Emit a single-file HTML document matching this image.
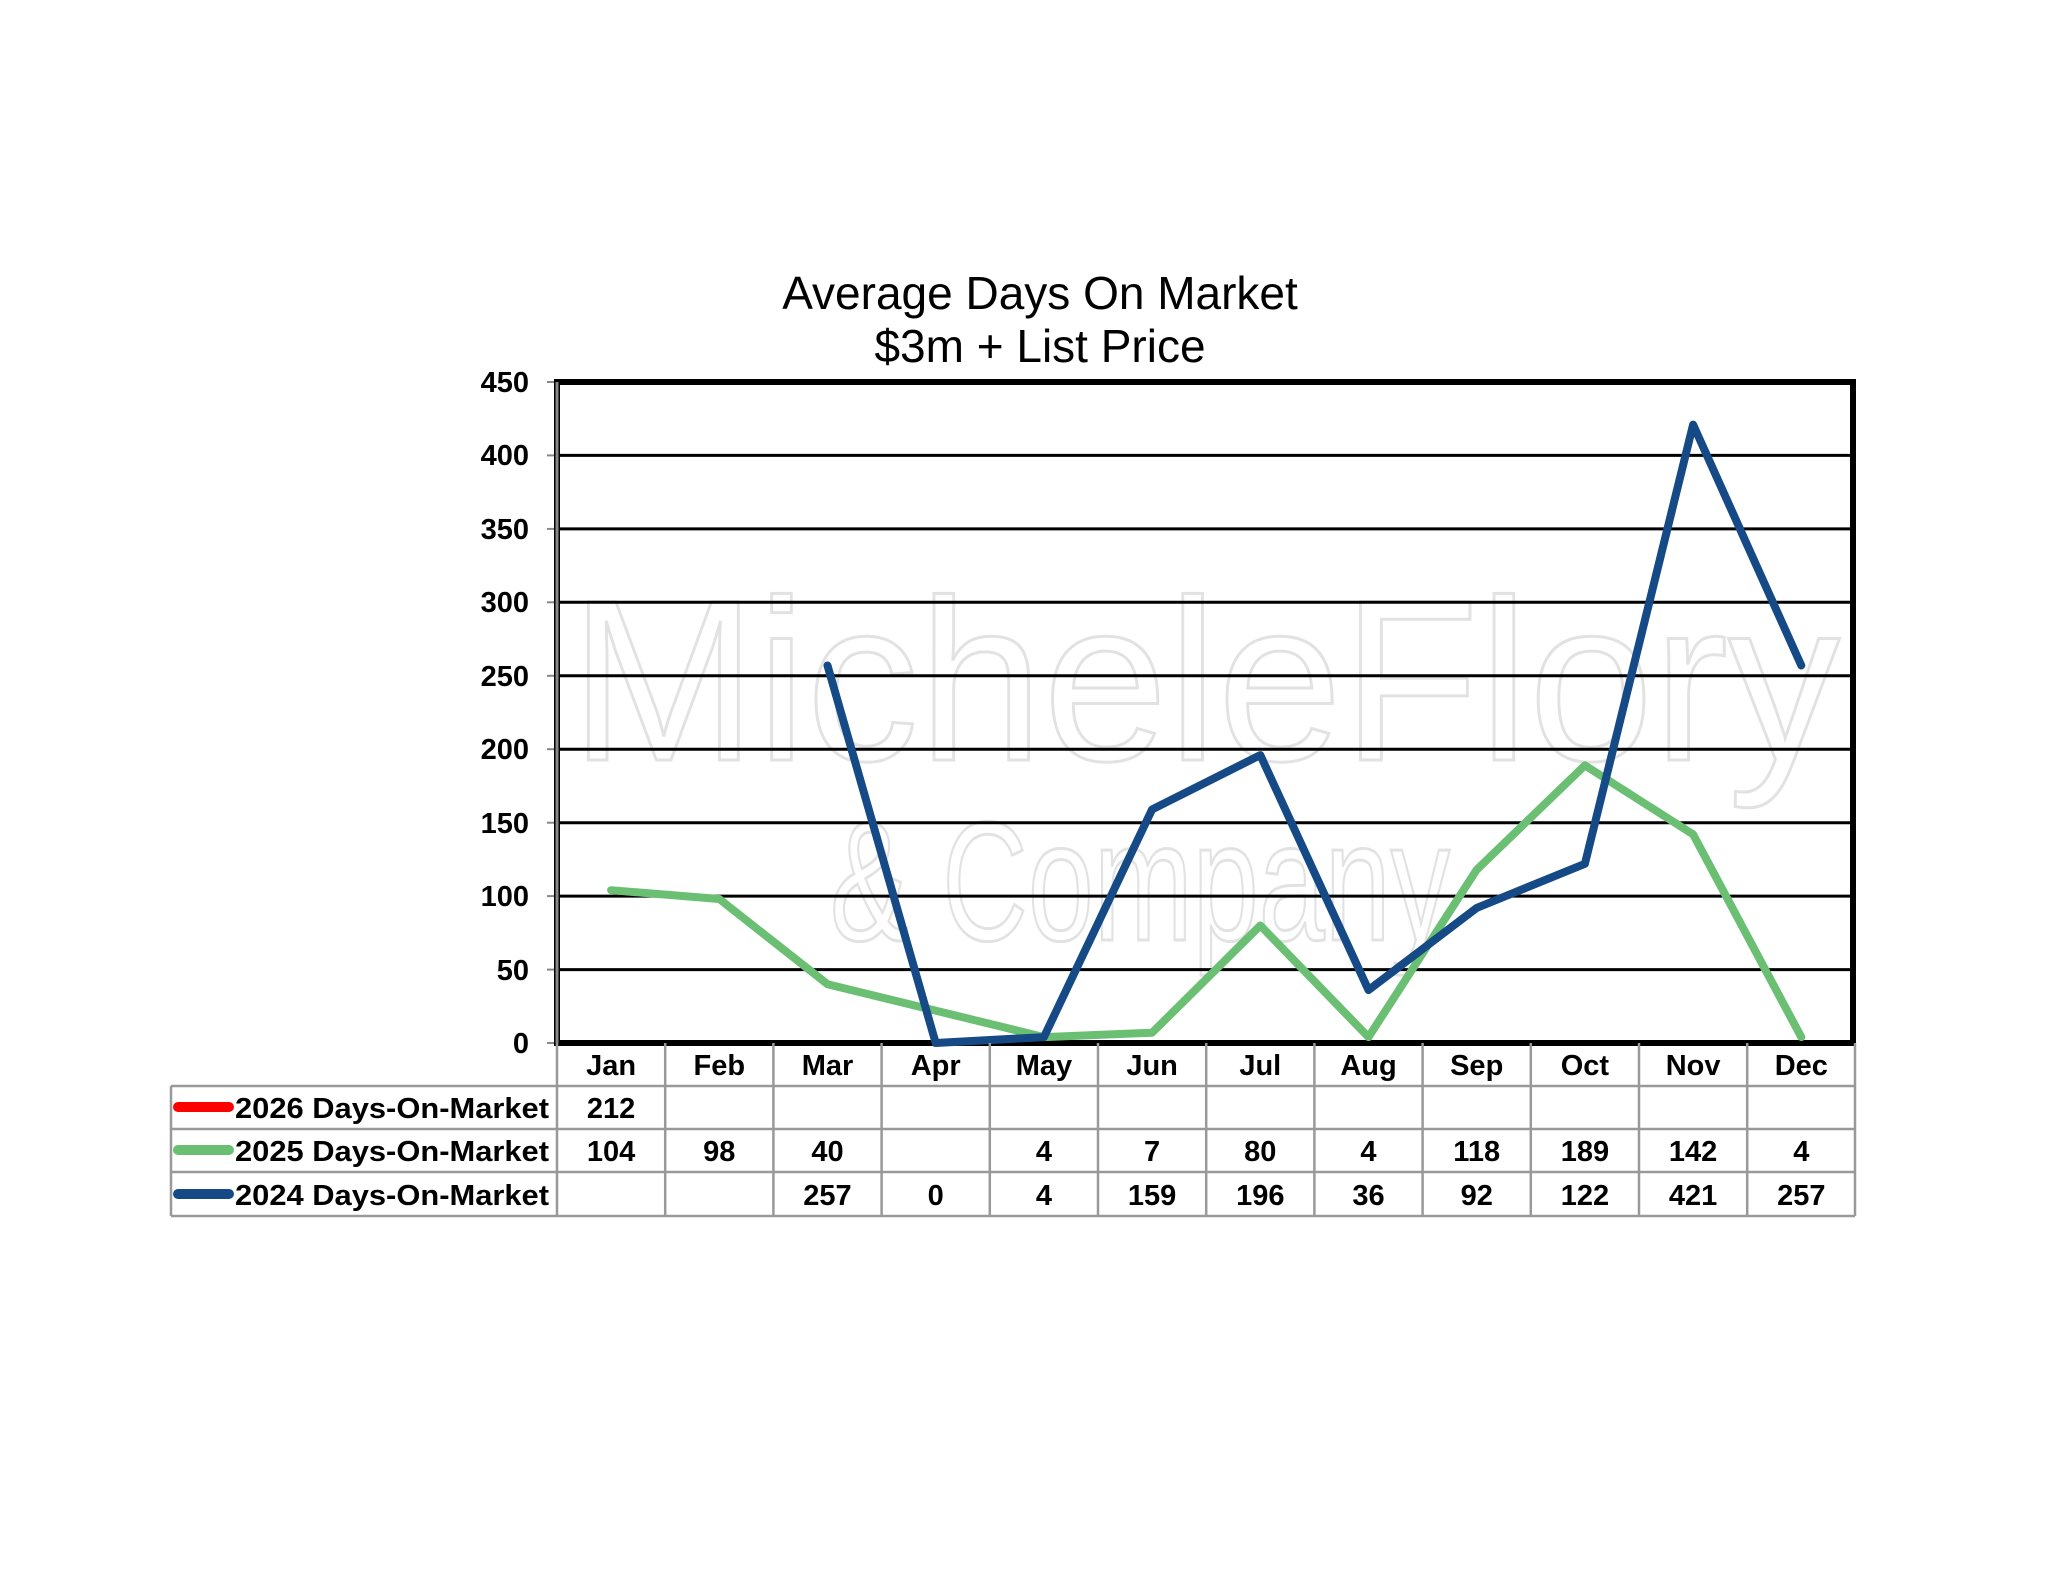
<!DOCTYPE html>
<html><head><meta charset="utf-8"><style>html,body{margin:0;padding:0;background:#fff}</style></head>
<body>
<svg width="2048" height="1583" viewBox="0 0 2048 1583" xmlns="http://www.w3.org/2000/svg" font-family="Liberation Sans, Arial, sans-serif">
<rect width="2048" height="1583" fill="#fff"/>
<text x="1040" y="309" font-size="46" text-anchor="middle" fill="#000">Average Days On Market</text>
<text x="1040" y="362" font-size="46" text-anchor="middle" fill="#000">$3m + List Price</text>
<!-- watermark -->
<g fill="none" stroke="#e2e2e2" stroke-width="3" font-size="230">
<text x="570" y="760" textLength="1270" lengthAdjust="spacingAndGlyphs">MicheleFlory</text>
<text x="830" y="940" font-size="170" textLength="620" lengthAdjust="spacingAndGlyphs">&amp; Company</text>
</g>
<!-- grid -->
<g stroke="#000" stroke-width="3">
<line x1="557" x2="1853" y1="455.4" y2="455.4"/>
<line x1="557" x2="1853" y1="528.9" y2="528.9"/>
<line x1="557" x2="1853" y1="602.3" y2="602.3"/>
<line x1="557" x2="1853" y1="675.8" y2="675.8"/>
<line x1="557" x2="1853" y1="749.2" y2="749.2"/>
<line x1="557" x2="1853" y1="822.7" y2="822.7"/>
<line x1="557" x2="1853" y1="896.1" y2="896.1"/>
<line x1="557" x2="1853" y1="969.6" y2="969.6"/>
</g>
<g stroke="#888" stroke-width="2">
<line x1="547" x2="557" y1="382" y2="382"/><line x1="547" x2="557" y1="455.4" y2="455.4"/>
<line x1="547" x2="557" y1="528.9" y2="528.9"/><line x1="547" x2="557" y1="602.3" y2="602.3"/>
<line x1="547" x2="557" y1="675.8" y2="675.8"/><line x1="547" x2="557" y1="749.2" y2="749.2"/>
<line x1="547" x2="557" y1="822.7" y2="822.7"/><line x1="547" x2="557" y1="896.1" y2="896.1"/>
<line x1="547" x2="557" y1="969.6" y2="969.6"/><line x1="547" x2="557" y1="1043" y2="1043"/>
</g>
<rect x="557" y="382" width="1296" height="661" fill="none" stroke="#000" stroke-width="6"/>
<line x1="557" x2="557" y1="382" y2="1043" stroke="#888" stroke-width="3"/>
<g font-size="29" font-weight="bold" text-anchor="end" fill="#000">
<text x="529" y="392">450</text><text x="529" y="465">400</text><text x="529" y="539">350</text>
<text x="529" y="612">300</text><text x="529" y="686">250</text><text x="529" y="759">200</text>
<text x="529" y="833">150</text><text x="529" y="906">100</text><text x="529" y="980">50</text>
<text x="529" y="1053">0</text>
</g>
<!-- series -->
<polyline fill="none" stroke="#6bbf73" stroke-width="8" stroke-linejoin="round" stroke-linecap="round" points="611.1,890.2 719.3,899 827.5,984.2 1043.9,1037.1 1152.1,1032.7 1260.3,925.5 1368.5,1037.1 1476.7,869.7 1584.9,765.4 1693.1,834.4 1801.3,1037.1"/>
<polyline fill="none" stroke="#154a86" stroke-width="8" stroke-linejoin="round" stroke-linecap="round" points="827.5,665.5 935.7,1043 1043.9,1037.1 1152.1,809.4 1260.3,755.1 1368.5,990.1 1476.7,907.9 1584.9,863.8 1693.1,424.6 1801.3,665.5"/>
<!-- table -->
<g stroke="#999" stroke-width="2.5" fill="none">
<line x1="171" x2="1855" y1="1086" y2="1086"/>
<line x1="171" x2="1855" y1="1129" y2="1129"/>
<line x1="171" x2="1855" y1="1172" y2="1172"/>
<line x1="171" x2="1855" y1="1216" y2="1216"/>
<line x1="171" x2="171" y1="1086" y2="1216"/>
<line x1="557" x2="557" y1="1043" y2="1216"/>
<line x1="665.2" x2="665.2" y1="1043" y2="1216"/>
<line x1="773.4" x2="773.4" y1="1043" y2="1216"/>
<line x1="881.6" x2="881.6" y1="1043" y2="1216"/>
<line x1="989.8" x2="989.8" y1="1043" y2="1216"/>
<line x1="1098" x2="1098" y1="1043" y2="1216"/>
<line x1="1206.2" x2="1206.2" y1="1043" y2="1216"/>
<line x1="1314.4" x2="1314.4" y1="1043" y2="1216"/>
<line x1="1422.6" x2="1422.6" y1="1043" y2="1216"/>
<line x1="1530.8" x2="1530.8" y1="1043" y2="1216"/>
<line x1="1639" x2="1639" y1="1043" y2="1216"/>
<line x1="1747.2" x2="1747.2" y1="1043" y2="1216"/>
<line x1="1855" x2="1855" y1="1043" y2="1216"/>
</g>
<g stroke-width="10" stroke-linecap="round">
<line x1="178" x2="229" y1="1107" y2="1107" stroke="#ff0000"/>
<line x1="178" x2="229" y1="1150" y2="1150" stroke="#6bbf73"/>
<line x1="178" x2="229" y1="1194" y2="1194" stroke="#154a86"/>
</g>
<g font-size="29" font-weight="bold" fill="#000">
<text x="235" y="1118" textLength="314" lengthAdjust="spacingAndGlyphs">2026 Days-On-Market</text>
<text x="235" y="1161" textLength="314" lengthAdjust="spacingAndGlyphs">2025 Days-On-Market</text>
<text x="235" y="1205" textLength="314" lengthAdjust="spacingAndGlyphs">2024 Days-On-Market</text>
</g>
<g font-size="29" font-weight="bold" fill="#000" text-anchor="middle">
<text x="611.1" y="1075">Jan</text><text x="719.3" y="1075">Feb</text><text x="827.5" y="1075">Mar</text>
<text x="935.7" y="1075">Apr</text><text x="1043.9" y="1075">May</text><text x="1152.1" y="1075">Jun</text>
<text x="1260.3" y="1075">Jul</text><text x="1368.5" y="1075">Aug</text><text x="1476.7" y="1075">Sep</text>
<text x="1584.9" y="1075">Oct</text><text x="1693.1" y="1075">Nov</text><text x="1801.3" y="1075">Dec</text>
<text x="611.1" y="1118">212</text>
<text x="611.1" y="1161">104</text><text x="719.3" y="1161">98</text><text x="827.5" y="1161">40</text>
<text x="1043.9" y="1161">4</text><text x="1152.1" y="1161">7</text><text x="1260.3" y="1161">80</text>
<text x="1368.5" y="1161">4</text><text x="1476.7" y="1161">118</text><text x="1584.9" y="1161">189</text>
<text x="1693.1" y="1161">142</text><text x="1801.3" y="1161">4</text>
<text x="827.5" y="1205">257</text><text x="935.7" y="1205">0</text><text x="1043.9" y="1205">4</text>
<text x="1152.1" y="1205">159</text><text x="1260.3" y="1205">196</text><text x="1368.5" y="1205">36</text>
<text x="1476.7" y="1205">92</text><text x="1584.9" y="1205">122</text><text x="1693.1" y="1205">421</text>
<text x="1801.3" y="1205">257</text>
</g>
</svg>
</body></html>
